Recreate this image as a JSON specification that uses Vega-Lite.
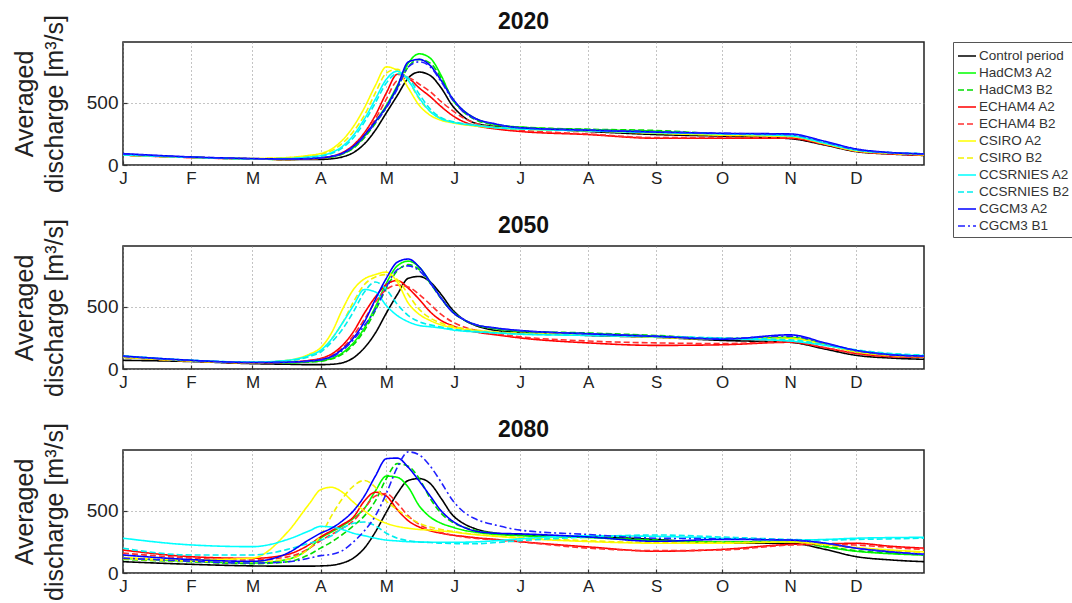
{
  "$schema": "https://vega.github.io/schema/vega-lite/v6.json",
  "padding": {"left": 11, "top": 9, "right": 0, "bottom": 0},
  "bounds": "flush",
  "spacing": 81,
  "config": {
    "font": "Liberation Sans",
    "view": {"stroke": "#222", "strokeWidth": 1.5},
    "title": {"fontSize": 23, "fontWeight": "bold", "color": "#111", "offset": -19, "baseline": "alphabetic", "anchor": "middle"},
    "axis": {"ticks": true, "tickSize": -4, "tickColor": "#333", "tickWidth": 1.2},
    "legend": {
      "strokeColor": "#555",
      "padding": 4,
      "labelFontSize": 13.5,
      "labelColor": "#333",
      "labelFont": "Liberation Sans",
      "symbolType": "stroke",
      "symbolSize": 324,
      "symbolStrokeWidth": 1.5,
      "rowPadding": 0,
      "labelOffset": 2
    }
  },
  "datasets": {
    "flow": [
      {"yr": "2020", "day": 0, "Control period": 80, "HadCM3 A2": 82, "HadCM3 B2": 82, "ECHAM4 A2": 80, "ECHAM4 B2": 80, "CSIRO A2": 80, "CSIRO B2": 80, "CCSRNIES A2": 82, "CCSRNIES B2": 82, "CGCM3 A2": 92, "CGCM3 B1": 88},
      {"yr": "2020", "day": 31, "Control period": 62, "HadCM3 A2": 62, "HadCM3 B2": 62, "ECHAM4 A2": 60, "ECHAM4 B2": 60, "CSIRO A2": 62, "CSIRO B2": 62, "CCSRNIES A2": 62, "CCSRNIES B2": 62, "CGCM3 A2": 65, "CGCM3 B1": 64},
      {"yr": "2020", "day": 59, "Control period": 50, "HadCM3 A2": 48, "HadCM3 B2": 48, "ECHAM4 A2": 48, "ECHAM4 B2": 48, "CSIRO A2": 52, "CSIRO B2": 52, "CCSRNIES A2": 50, "CCSRNIES B2": 50, "CGCM3 A2": 52, "CGCM3 B1": 51},
      {"yr": "2020", "day": 75, "Control period": 45, "HadCM3 A2": 45, "HadCM3 B2": 45, "ECHAM4 A2": 45, "ECHAM4 B2": 45, "CSIRO A2": 60, "CSIRO B2": 58, "CCSRNIES A2": 52, "CCSRNIES B2": 50, "CGCM3 A2": 48, "CGCM3 B1": 47},
      {"yr": "2020", "day": 85, "Control period": 45, "HadCM3 A2": 50, "HadCM3 B2": 50, "ECHAM4 A2": 50, "ECHAM4 B2": 50, "CSIRO A2": 78, "CSIRO B2": 72, "CCSRNIES A2": 65, "CCSRNIES B2": 62, "CGCM3 A2": 52, "CGCM3 B1": 51},
      {"yr": "2020", "day": 90, "Control period": 45, "HadCM3 A2": 55, "HadCM3 B2": 55, "ECHAM4 A2": 55, "ECHAM4 B2": 55, "CSIRO A2": 92, "CSIRO B2": 85, "CCSRNIES A2": 75, "CCSRNIES B2": 70, "CGCM3 A2": 58, "CGCM3 B1": 57},
      {"yr": "2020", "day": 95, "Control period": 50, "HadCM3 A2": 65, "HadCM3 B2": 65, "ECHAM4 A2": 70, "ECHAM4 B2": 68, "CSIRO A2": 128, "CSIRO B2": 115, "CCSRNIES A2": 100, "CCSRNIES B2": 92, "CGCM3 A2": 70, "CGCM3 B1": 68},
      {"yr": "2020", "day": 100, "Control period": 65, "HadCM3 A2": 90, "HadCM3 B2": 88, "ECHAM4 A2": 100, "ECHAM4 B2": 95, "CSIRO A2": 200, "CSIRO B2": 175, "CCSRNIES A2": 150, "CCSRNIES B2": 138, "CGCM3 A2": 95, "CGCM3 B1": 92},
      {"yr": "2020", "day": 105, "Control period": 100, "HadCM3 A2": 140, "HadCM3 B2": 135, "ECHAM4 A2": 160, "ECHAM4 B2": 150, "CSIRO A2": 310, "CSIRO B2": 270, "CCSRNIES A2": 240, "CCSRNIES B2": 220, "CGCM3 A2": 150, "CGCM3 B1": 145},
      {"yr": "2020", "day": 110, "Control period": 170, "HadCM3 A2": 230, "HadCM3 B2": 220, "ECHAM4 A2": 260, "ECHAM4 B2": 240, "CSIRO A2": 460, "CSIRO B2": 400, "CCSRNIES A2": 370, "CCSRNIES B2": 345, "CGCM3 A2": 240, "CGCM3 B1": 232},
      {"yr": "2020", "day": 115, "Control period": 280, "HadCM3 A2": 350, "HadCM3 B2": 335, "ECHAM4 A2": 400, "ECHAM4 B2": 370, "CSIRO A2": 640, "CSIRO B2": 580, "CCSRNIES A2": 530, "CCSRNIES B2": 500, "CGCM3 A2": 350, "CGCM3 B1": 340},
      {"yr": "2020", "day": 120, "Control period": 420, "HadCM3 A2": 480, "HadCM3 B2": 465, "ECHAM4 A2": 580, "ECHAM4 B2": 530, "CSIRO A2": 790, "CSIRO B2": 740, "CCSRNIES A2": 690, "CCSRNIES B2": 660, "CGCM3 A2": 470, "CGCM3 B1": 460},
      {"yr": "2020", "day": 125, "Control period": 560, "HadCM3 A2": 640, "HadCM3 B2": 620, "ECHAM4 A2": 730, "ECHAM4 B2": 680, "CSIRO A2": 760, "CSIRO B2": 770, "CCSRNIES A2": 755, "CCSRNIES B2": 735, "CGCM3 A2": 630, "CGCM3 B1": 610},
      {"yr": "2020", "day": 130, "Control period": 700, "HadCM3 A2": 820, "HadCM3 B2": 790, "ECHAM4 A2": 700, "ECHAM4 B2": 700, "CSIRO A2": 620, "CSIRO B2": 680, "CCSRNIES A2": 680, "CCSRNIES B2": 700, "CGCM3 A2": 830, "CGCM3 B1": 790},
      {"yr": "2020", "day": 135, "Control period": 748, "HadCM3 A2": 895, "HadCM3 B2": 850, "ECHAM4 A2": 620, "ECHAM4 B2": 650, "CSIRO A2": 480, "CSIRO B2": 530, "CCSRNIES A2": 540, "CCSRNIES B2": 570, "CGCM3 A2": 850, "CGCM3 B1": 830},
      {"yr": "2020", "day": 140, "Control period": 720, "HadCM3 A2": 860, "HadCM3 B2": 820, "ECHAM4 A2": 550, "ECHAM4 B2": 590, "CSIRO A2": 400, "CSIRO B2": 430, "CCSRNIES A2": 430, "CCSRNIES B2": 450, "CGCM3 A2": 800, "CGCM3 B1": 790},
      {"yr": "2020", "day": 145, "Control period": 620, "HadCM3 A2": 720, "HadCM3 B2": 700, "ECHAM4 A2": 470, "ECHAM4 B2": 510, "CSIRO A2": 360, "CSIRO B2": 375, "CCSRNIES A2": 370, "CCSRNIES B2": 380, "CGCM3 A2": 680, "CGCM3 B1": 670},
      {"yr": "2020", "day": 150, "Control period": 480, "HadCM3 A2": 530, "HadCM3 B2": 540, "ECHAM4 A2": 400, "ECHAM4 B2": 440, "CSIRO A2": 340, "CSIRO B2": 345, "CCSRNIES A2": 345, "CCSRNIES B2": 350, "CGCM3 A2": 540, "CGCM3 B1": 530},
      {"yr": "2020", "day": 155, "Control period": 390, "HadCM3 A2": 440, "HadCM3 B2": 430, "ECHAM4 A2": 350, "ECHAM4 B2": 380, "CSIRO A2": 325, "CSIRO B2": 328, "CCSRNIES A2": 330, "CCSRNIES B2": 333, "CGCM3 A2": 440, "CGCM3 B1": 430},
      {"yr": "2020", "day": 160, "Control period": 340, "HadCM3 A2": 380, "HadCM3 B2": 370, "ECHAM4 A2": 320, "ECHAM4 B2": 340, "CSIRO A2": 315, "CSIRO B2": 318, "CCSRNIES A2": 320, "CCSRNIES B2": 322, "CGCM3 A2": 380, "CGCM3 B1": 375},
      {"yr": "2020", "day": 170, "Control period": 310, "HadCM3 A2": 325, "HadCM3 B2": 320, "ECHAM4 A2": 290, "ECHAM4 B2": 300, "CSIRO A2": 300, "CSIRO B2": 302, "CCSRNIES A2": 300, "CCSRNIES B2": 302, "CGCM3 A2": 330, "CGCM3 B1": 328},
      {"yr": "2020", "day": 181, "Control period": 300, "HadCM3 A2": 305, "HadCM3 B2": 305, "ECHAM4 A2": 270, "ECHAM4 B2": 280, "CSIRO A2": 290, "CSIRO B2": 292, "CCSRNIES A2": 290, "CCSRNIES B2": 292, "CGCM3 A2": 300, "CGCM3 B1": 300},
      {"yr": "2020", "day": 212, "Control period": 270, "HadCM3 A2": 285, "HadCM3 B2": 288, "ECHAM4 A2": 245, "ECHAM4 B2": 250, "CSIRO A2": 275, "CSIRO B2": 278, "CCSRNIES A2": 275, "CCSRNIES B2": 280, "CGCM3 A2": 280, "CGCM3 B1": 282},
      {"yr": "2020", "day": 243, "Control period": 245, "HadCM3 A2": 272, "HadCM3 B2": 278, "ECHAM4 A2": 215, "ECHAM4 B2": 220, "CSIRO A2": 255, "CSIRO B2": 262, "CCSRNIES A2": 260, "CCSRNIES B2": 265, "CGCM3 A2": 265, "CGCM3 B1": 268},
      {"yr": "2020", "day": 273, "Control period": 232, "HadCM3 A2": 245, "HadCM3 B2": 250, "ECHAM4 A2": 215, "ECHAM4 B2": 222, "CSIRO A2": 240, "CSIRO B2": 242, "CCSRNIES A2": 250, "CCSRNIES B2": 252, "CGCM3 A2": 255, "CGCM3 B1": 255},
      {"yr": "2020", "day": 304, "Control period": 212, "HadCM3 A2": 235, "HadCM3 B2": 238, "ECHAM4 A2": 215, "ECHAM4 B2": 220, "CSIRO A2": 230, "CSIRO B2": 232, "CCSRNIES A2": 235, "CCSRNIES B2": 238, "CGCM3 A2": 250, "CGCM3 B1": 245},
      {"yr": "2020", "day": 320, "Control period": 160, "HadCM3 A2": 170, "HadCM3 B2": 172, "ECHAM4 A2": 165, "ECHAM4 B2": 165, "CSIRO A2": 170, "CSIRO B2": 172, "CCSRNIES A2": 175, "CCSRNIES B2": 178, "CGCM3 A2": 190, "CGCM3 B1": 185},
      {"yr": "2020", "day": 334, "Control period": 108, "HadCM3 A2": 115, "HadCM3 B2": 118, "ECHAM4 A2": 112, "ECHAM4 B2": 112, "CSIRO A2": 115, "CSIRO B2": 116, "CCSRNIES A2": 120, "CCSRNIES B2": 122, "CGCM3 A2": 130, "CGCM3 B1": 125},
      {"yr": "2020", "day": 350, "Control period": 88, "HadCM3 A2": 95, "HadCM3 B2": 96, "ECHAM4 A2": 90, "ECHAM4 B2": 90, "CSIRO A2": 95, "CSIRO B2": 95, "CCSRNIES A2": 98, "CCSRNIES B2": 100, "CGCM3 A2": 100, "CGCM3 B1": 98},
      {"yr": "2020", "day": 365, "Control period": 77, "HadCM3 A2": 84, "HadCM3 B2": 85, "ECHAM4 A2": 80, "ECHAM4 B2": 80, "CSIRO A2": 82, "CSIRO B2": 84, "CCSRNIES A2": 90, "CCSRNIES B2": 92, "CGCM3 A2": 90, "CGCM3 B1": 88},

      {"yr": "2050", "day": 0, "Control period": 70, "HadCM3 A2": 95, "HadCM3 B2": 95, "ECHAM4 A2": 95, "ECHAM4 B2": 95, "CSIRO A2": 95, "CSIRO B2": 95, "CCSRNIES A2": 105, "CCSRNIES B2": 105, "CGCM3 A2": 104, "CGCM3 B1": 100},
      {"yr": "2050", "day": 31, "Control period": 60, "HadCM3 A2": 68, "HadCM3 B2": 68, "ECHAM4 A2": 65, "ECHAM4 B2": 65, "CSIRO A2": 65, "CSIRO B2": 65, "CCSRNIES A2": 70, "CCSRNIES B2": 70, "CGCM3 A2": 70, "CGCM3 B1": 68},
      {"yr": "2050", "day": 59, "Control period": 43, "HadCM3 A2": 50, "HadCM3 B2": 50, "ECHAM4 A2": 50, "ECHAM4 B2": 50, "CSIRO A2": 52, "CSIRO B2": 52, "CCSRNIES A2": 55, "CCSRNIES B2": 55, "CGCM3 A2": 52, "CGCM3 B1": 52},
      {"yr": "2050", "day": 75, "Control period": 38, "HadCM3 A2": 50, "HadCM3 B2": 50, "ECHAM4 A2": 55, "ECHAM4 B2": 53, "CSIRO A2": 70, "CSIRO B2": 65, "CCSRNIES A2": 70, "CCSRNIES B2": 66, "CGCM3 A2": 55, "CGCM3 B1": 54},
      {"yr": "2050", "day": 85, "Control period": 35, "HadCM3 A2": 58, "HadCM3 B2": 57, "ECHAM4 A2": 70, "ECHAM4 B2": 66, "CSIRO A2": 120, "CSIRO B2": 105, "CCSRNIES A2": 110, "CCSRNIES B2": 100, "CGCM3 A2": 65, "CGCM3 B1": 63},
      {"yr": "2050", "day": 90, "Control period": 35, "HadCM3 A2": 65, "HadCM3 B2": 63, "ECHAM4 A2": 85, "ECHAM4 B2": 80, "CSIRO A2": 170, "CSIRO B2": 145, "CCSRNIES A2": 150, "CCSRNIES B2": 135, "CGCM3 A2": 75, "CGCM3 B1": 72},
      {"yr": "2050", "day": 95, "Control period": 38, "HadCM3 A2": 85, "HadCM3 B2": 80, "ECHAM4 A2": 120, "ECHAM4 B2": 110, "CSIRO A2": 290, "CSIRO B2": 240, "CCSRNIES A2": 240, "CCSRNIES B2": 215, "CGCM3 A2": 100, "CGCM3 B1": 95},
      {"yr": "2050", "day": 100, "Control period": 50, "HadCM3 A2": 130, "HadCM3 B2": 120, "ECHAM4 A2": 190, "ECHAM4 B2": 170, "CSIRO A2": 480, "CSIRO B2": 370, "CCSRNIES A2": 370, "CCSRNIES B2": 320, "CGCM3 A2": 160, "CGCM3 B1": 150},
      {"yr": "2050", "day": 105, "Control period": 90, "HadCM3 A2": 210, "HadCM3 B2": 195, "ECHAM4 A2": 300, "ECHAM4 B2": 270, "CSIRO A2": 640, "CSIRO B2": 540, "CCSRNIES A2": 510, "CCSRNIES B2": 460, "CGCM3 A2": 250, "CGCM3 B1": 235},
      {"yr": "2050", "day": 110, "Control period": 170, "HadCM3 A2": 330, "HadCM3 B2": 310, "ECHAM4 A2": 450, "ECHAM4 B2": 400, "CSIRO A2": 725, "CSIRO B2": 680, "CCSRNIES A2": 640, "CCSRNIES B2": 620, "CGCM3 A2": 380, "CGCM3 B1": 350},
      {"yr": "2050", "day": 115, "Control period": 290, "HadCM3 A2": 500, "HadCM3 B2": 470, "ECHAM4 A2": 580, "ECHAM4 B2": 540, "CSIRO A2": 760, "CSIRO B2": 740, "CCSRNIES A2": 620, "CCSRNIES B2": 700, "CGCM3 A2": 560, "CGCM3 B1": 480},
      {"yr": "2050", "day": 120, "Control period": 450, "HadCM3 A2": 690, "HadCM3 B2": 650, "ECHAM4 A2": 680, "ECHAM4 B2": 640, "CSIRO A2": 780, "CSIRO B2": 760, "CCSRNIES A2": 510, "CCSRNIES B2": 640, "CGCM3 A2": 730, "CGCM3 B1": 660},
      {"yr": "2050", "day": 125, "Control period": 600, "HadCM3 A2": 830, "HadCM3 B2": 790, "ECHAM4 A2": 712, "ECHAM4 B2": 675, "CSIRO A2": 700, "CSIRO B2": 720, "CCSRNIES A2": 430, "CCSRNIES B2": 520, "CGCM3 A2": 860, "CGCM3 B1": 800},
      {"yr": "2050", "day": 130, "Control period": 730, "HadCM3 A2": 868, "HadCM3 B2": 840, "ECHAM4 A2": 650, "ECHAM4 B2": 660, "CSIRO A2": 530, "CSIRO B2": 600, "CCSRNIES A2": 380, "CCSRNIES B2": 430, "CGCM3 A2": 885, "CGCM3 B1": 830},
      {"yr": "2050", "day": 135, "Control period": 745, "HadCM3 A2": 820, "HadCM3 B2": 800, "ECHAM4 A2": 560, "ECHAM4 B2": 600, "CSIRO A2": 440, "CSIRO B2": 480, "CCSRNIES A2": 350, "CCSRNIES B2": 380, "CGCM3 A2": 820, "CGCM3 B1": 790},
      {"yr": "2050", "day": 140, "Control period": 700, "HadCM3 A2": 700, "HadCM3 B2": 690, "ECHAM4 A2": 460, "ECHAM4 B2": 520, "CSIRO A2": 390, "CSIRO B2": 410, "CCSRNIES A2": 340, "CCSRNIES B2": 355, "CGCM3 A2": 700, "CGCM3 B1": 690},
      {"yr": "2050", "day": 145, "Control period": 600, "HadCM3 A2": 570, "HadCM3 B2": 565, "ECHAM4 A2": 390, "ECHAM4 B2": 440, "CSIRO A2": 355, "CSIRO B2": 370, "CCSRNIES A2": 330, "CCSRNIES B2": 338, "CGCM3 A2": 570, "CGCM3 B1": 570},
      {"yr": "2050", "day": 150, "Control period": 480, "HadCM3 A2": 465, "HadCM3 B2": 462, "ECHAM4 A2": 350, "ECHAM4 B2": 380, "CSIRO A2": 335, "CSIRO B2": 345, "CCSRNIES A2": 315, "CCSRNIES B2": 322, "CGCM3 A2": 460, "CGCM3 B1": 465},
      {"yr": "2050", "day": 155, "Control period": 400, "HadCM3 A2": 400, "HadCM3 B2": 398, "ECHAM4 A2": 320, "ECHAM4 B2": 340, "CSIRO A2": 320, "CSIRO B2": 328, "CCSRNIES A2": 305, "CCSRNIES B2": 310, "CGCM3 A2": 400, "CGCM3 B1": 402},
      {"yr": "2050", "day": 160, "Control period": 355, "HadCM3 A2": 360, "HadCM3 B2": 358, "ECHAM4 A2": 300, "ECHAM4 B2": 315, "CSIRO A2": 310, "CSIRO B2": 315, "CCSRNIES A2": 300, "CCSRNIES B2": 303, "CGCM3 A2": 360, "CGCM3 B1": 362},
      {"yr": "2050", "day": 170, "Control period": 310, "HadCM3 A2": 325, "HadCM3 B2": 322, "ECHAM4 A2": 275, "ECHAM4 B2": 285, "CSIRO A2": 295, "CSIRO B2": 298, "CCSRNIES A2": 290, "CCSRNIES B2": 292, "CGCM3 A2": 330, "CGCM3 B1": 328},
      {"yr": "2050", "day": 181, "Control period": 295, "HadCM3 A2": 305, "HadCM3 B2": 305, "ECHAM4 A2": 250, "ECHAM4 B2": 260, "CSIRO A2": 285, "CSIRO B2": 288, "CCSRNIES A2": 280, "CCSRNIES B2": 282, "CGCM3 A2": 310, "CGCM3 B1": 308},
      {"yr": "2050", "day": 212, "Control period": 270, "HadCM3 A2": 285, "HadCM3 B2": 290, "ECHAM4 A2": 210, "ECHAM4 B2": 225, "CSIRO A2": 275, "CSIRO B2": 278, "CCSRNIES A2": 270, "CCSRNIES B2": 272, "CGCM3 A2": 283, "CGCM3 B1": 285},
      {"yr": "2050", "day": 243, "Control period": 255, "HadCM3 A2": 265, "HadCM3 B2": 270, "ECHAM4 A2": 190, "ECHAM4 B2": 210, "CSIRO A2": 255, "CSIRO B2": 260, "CCSRNIES A2": 260, "CCSRNIES B2": 262, "CGCM3 A2": 262, "CGCM3 B1": 265},
      {"yr": "2050", "day": 273, "Control period": 230, "HadCM3 A2": 240, "HadCM3 B2": 245, "ECHAM4 A2": 195, "ECHAM4 B2": 205, "CSIRO A2": 240, "CSIRO B2": 245, "CCSRNIES A2": 245, "CCSRNIES B2": 250, "CGCM3 A2": 240, "CGCM3 B1": 245},
      {"yr": "2050", "day": 304, "Control period": 215, "HadCM3 A2": 255, "HadCM3 B2": 250, "ECHAM4 A2": 215, "ECHAM4 B2": 220, "CSIRO A2": 245, "CSIRO B2": 248, "CCSRNIES A2": 225, "CCSRNIES B2": 235, "CGCM3 A2": 275, "CGCM3 B1": 265},
      {"yr": "2050", "day": 320, "Control period": 160, "HadCM3 A2": 200, "HadCM3 B2": 198, "ECHAM4 A2": 170, "ECHAM4 B2": 172, "CSIRO A2": 195, "CSIRO B2": 198, "CCSRNIES A2": 190, "CCSRNIES B2": 195, "CGCM3 A2": 210, "CGCM3 B1": 205},
      {"yr": "2050", "day": 334, "Control period": 110, "HadCM3 A2": 140, "HadCM3 B2": 140, "ECHAM4 A2": 125, "ECHAM4 B2": 125, "CSIRO A2": 140, "CSIRO B2": 142, "CCSRNIES A2": 150, "CCSRNIES B2": 155, "CGCM3 A2": 150, "CGCM3 B1": 148},
      {"yr": "2050", "day": 350, "Control period": 88, "HadCM3 A2": 110, "HadCM3 B2": 110, "ECHAM4 A2": 100, "ECHAM4 B2": 100, "CSIRO A2": 110, "CSIRO B2": 112, "CCSRNIES A2": 120, "CCSRNIES B2": 125, "CGCM3 A2": 115, "CGCM3 B1": 114},
      {"yr": "2050", "day": 365, "Control period": 78, "HadCM3 A2": 98, "HadCM3 B2": 98, "ECHAM4 A2": 95, "ECHAM4 B2": 95, "CSIRO A2": 100, "CSIRO B2": 102, "CCSRNIES A2": 108, "CCSRNIES B2": 112, "CGCM3 A2": 104, "CGCM3 B1": 102},

      {"yr": "2080", "day": 0, "Control period": 91, "HadCM3 A2": 118, "HadCM3 B2": 110, "ECHAM4 A2": 185, "ECHAM4 B2": 160, "CSIRO A2": 125, "CSIRO B2": 115, "CCSRNIES A2": 280, "CCSRNIES B2": 199, "CGCM3 A2": 145, "CGCM3 B1": 120},
      {"yr": "2080", "day": 31, "Control period": 70, "HadCM3 A2": 94, "HadCM3 B2": 90, "ECHAM4 A2": 131, "ECHAM4 B2": 120, "CSIRO A2": 105, "CSIRO B2": 95, "CCSRNIES A2": 226, "CCSRNIES B2": 145, "CGCM3 A2": 108, "CGCM3 B1": 95},
      {"yr": "2080", "day": 59, "Control period": 57, "HadCM3 A2": 80, "HadCM3 B2": 75, "ECHAM4 A2": 118, "ECHAM4 B2": 105, "CSIRO A2": 120, "CSIRO B2": 90, "CCSRNIES A2": 212, "CCSRNIES B2": 145, "CGCM3 A2": 94, "CGCM3 B1": 80},
      {"yr": "2080", "day": 75, "Control period": 55, "HadCM3 A2": 110, "HadCM3 B2": 90, "ECHAM4 A2": 150, "ECHAM4 B2": 130, "CSIRO A2": 330, "CSIRO B2": 110, "CCSRNIES A2": 270, "CCSRNIES B2": 190, "CGCM3 A2": 160, "CGCM3 B1": 90},
      {"yr": "2080", "day": 85, "Control period": 55, "HadCM3 A2": 200, "HadCM3 B2": 150, "ECHAM4 A2": 230, "ECHAM4 B2": 200, "CSIRO A2": 560, "CSIRO B2": 200, "CCSRNIES A2": 340, "CCSRNIES B2": 240, "CGCM3 A2": 270, "CGCM3 B1": 120},
      {"yr": "2080", "day": 90, "Control period": 57, "HadCM3 A2": 280, "HadCM3 B2": 200, "ECHAM4 A2": 290, "ECHAM4 B2": 260, "CSIRO A2": 670, "CSIRO B2": 300, "CCSRNIES A2": 375, "CCSRNIES B2": 265, "CGCM3 A2": 320, "CGCM3 B1": 140},
      {"yr": "2080", "day": 95, "Control period": 62, "HadCM3 A2": 330, "HadCM3 B2": 250, "ECHAM4 A2": 340, "ECHAM4 B2": 310, "CSIRO A2": 690, "CSIRO B2": 460, "CCSRNIES A2": 370, "CCSRNIES B2": 300, "CGCM3 A2": 360, "CGCM3 B1": 150},
      {"yr": "2080", "day": 100, "Control period": 80, "HadCM3 A2": 380, "HadCM3 B2": 310, "ECHAM4 A2": 390, "ECHAM4 B2": 360, "CSIRO A2": 650, "CSIRO B2": 600, "CCSRNIES A2": 350, "CCSRNIES B2": 360, "CGCM3 A2": 420, "CGCM3 B1": 180},
      {"yr": "2080", "day": 105, "Control period": 120, "HadCM3 A2": 440, "HadCM3 B2": 380, "ECHAM4 A2": 450, "ECHAM4 B2": 420, "CSIRO A2": 570, "CSIRO B2": 700, "CCSRNIES A2": 320, "CCSRNIES B2": 400, "CGCM3 A2": 500, "CGCM3 B1": 250},
      {"yr": "2080", "day": 110, "Control period": 200, "HadCM3 A2": 520, "HadCM3 B2": 460, "ECHAM4 A2": 580, "ECHAM4 B2": 520, "CSIRO A2": 500, "CSIRO B2": 745, "CCSRNIES A2": 300, "CCSRNIES B2": 410, "CGCM3 A2": 620, "CGCM3 B1": 340},
      {"yr": "2080", "day": 115, "Control period": 330, "HadCM3 A2": 660, "HadCM3 B2": 580, "ECHAM4 A2": 650, "ECHAM4 B2": 620, "CSIRO A2": 440, "CSIRO B2": 690, "CCSRNIES A2": 280, "CCSRNIES B2": 380, "CGCM3 A2": 780, "CGCM3 B1": 460},
      {"yr": "2080", "day": 120, "Control period": 490, "HadCM3 A2": 780, "HadCM3 B2": 760, "ECHAM4 A2": 620, "ECHAM4 B2": 640, "CSIRO A2": 400, "CSIRO B2": 580, "CCSRNIES A2": 265, "CCSRNIES B2": 320, "CGCM3 A2": 920, "CGCM3 B1": 640},
      {"yr": "2080", "day": 125, "Control period": 640, "HadCM3 A2": 770, "HadCM3 B2": 880, "ECHAM4 A2": 510, "ECHAM4 B2": 560, "CSIRO A2": 375, "CSIRO B2": 510, "CCSRNIES A2": 258, "CCSRNIES B2": 280, "CGCM3 A2": 925, "CGCM3 B1": 850},
      {"yr": "2080", "day": 130, "Control period": 745, "HadCM3 A2": 690, "HadCM3 B2": 860, "ECHAM4 A2": 420, "ECHAM4 B2": 460, "CSIRO A2": 360, "CSIRO B2": 450, "CCSRNIES A2": 252, "CCSRNIES B2": 260, "CGCM3 A2": 850, "CGCM3 B1": 975},
      {"yr": "2080", "day": 135, "Control period": 760, "HadCM3 A2": 540, "HadCM3 B2": 760, "ECHAM4 A2": 370, "ECHAM4 B2": 390, "CSIRO A2": 350, "CSIRO B2": 400, "CCSRNIES A2": 250, "CCSRNIES B2": 250, "CGCM3 A2": 740, "CGCM3 B1": 950},
      {"yr": "2080", "day": 140, "Control period": 720, "HadCM3 A2": 450, "HadCM3 B2": 600, "ECHAM4 A2": 340, "ECHAM4 B2": 350, "CSIRO A2": 345, "CSIRO B2": 370, "CCSRNIES A2": 248, "CCSRNIES B2": 245, "CGCM3 A2": 620, "CGCM3 B1": 860},
      {"yr": "2080", "day": 145, "Control period": 600, "HadCM3 A2": 400, "HadCM3 B2": 480, "ECHAM4 A2": 320, "ECHAM4 B2": 325, "CSIRO A2": 338, "CSIRO B2": 350, "CCSRNIES A2": 248, "CCSRNIES B2": 240, "CGCM3 A2": 500, "CGCM3 B1": 730},
      {"yr": "2080", "day": 150, "Control period": 470, "HadCM3 A2": 370, "HadCM3 B2": 410, "ECHAM4 A2": 305, "ECHAM4 B2": 305, "CSIRO A2": 331, "CSIRO B2": 335, "CCSRNIES A2": 248, "CCSRNIES B2": 238, "CGCM3 A2": 420, "CGCM3 B1": 590},
      {"yr": "2080", "day": 155, "Control period": 400, "HadCM3 A2": 345, "HadCM3 B2": 370, "ECHAM4 A2": 295, "ECHAM4 B2": 290, "CSIRO A2": 320, "CSIRO B2": 322, "CCSRNIES A2": 248, "CCSRNIES B2": 235, "CGCM3 A2": 370, "CGCM3 B1": 495},
      {"yr": "2080", "day": 160, "Control period": 360, "HadCM3 A2": 330, "HadCM3 B2": 345, "ECHAM4 A2": 285, "ECHAM4 B2": 280, "CSIRO A2": 310, "CSIRO B2": 312, "CCSRNIES A2": 250, "CCSRNIES B2": 235, "CGCM3 A2": 340, "CGCM3 B1": 440},
      {"yr": "2080", "day": 170, "Control period": 320, "HadCM3 A2": 310, "HadCM3 B2": 320, "ECHAM4 A2": 270, "ECHAM4 B2": 265, "CSIRO A2": 295, "CSIRO B2": 298, "CCSRNIES A2": 260, "CCSRNIES B2": 245, "CGCM3 A2": 320, "CGCM3 B1": 385},
      {"yr": "2080", "day": 181, "Control period": 306, "HadCM3 A2": 300, "HadCM3 B2": 305, "ECHAM4 A2": 252, "ECHAM4 B2": 250, "CSIRO A2": 280, "CSIRO B2": 285, "CCSRNIES A2": 275, "CCSRNIES B2": 260, "CGCM3 A2": 315, "CGCM3 B1": 345},
      {"yr": "2080", "day": 212, "Control period": 293, "HadCM3 A2": 285, "HadCM3 B2": 290, "ECHAM4 A2": 210, "ECHAM4 B2": 200, "CSIRO A2": 253, "CSIRO B2": 260, "CCSRNIES A2": 300, "CCSRNIES B2": 290, "CGCM3 A2": 290, "CGCM3 B1": 310},
      {"yr": "2080", "day": 243, "Control period": 270, "HadCM3 A2": 260, "HadCM3 B2": 265, "ECHAM4 A2": 175, "ECHAM4 B2": 180, "CSIRO A2": 240, "CSIRO B2": 245, "CCSRNIES A2": 295, "CCSRNIES B2": 306, "CGCM3 A2": 255, "CGCM3 B1": 280},
      {"yr": "2080", "day": 273, "Control period": 240, "HadCM3 A2": 250, "HadCM3 B2": 250, "ECHAM4 A2": 190, "ECHAM4 B2": 185, "CSIRO A2": 240, "CSIRO B2": 245, "CCSRNIES A2": 280, "CCSRNIES B2": 290, "CGCM3 A2": 270, "CGCM3 B1": 275},
      {"yr": "2080", "day": 304, "Control period": 240, "HadCM3 A2": 255, "HadCM3 B2": 255, "ECHAM4 A2": 230, "ECHAM4 B2": 225, "CSIRO A2": 250, "CSIRO B2": 250, "CCSRNIES A2": 265, "CCSRNIES B2": 270, "CGCM3 A2": 265, "CGCM3 B1": 265},
      {"yr": "2080", "day": 320, "Control period": 190, "HadCM3 A2": 210, "HadCM3 B2": 215, "ECHAM4 A2": 235, "ECHAM4 B2": 230, "CSIRO A2": 230, "CSIRO B2": 225, "CCSRNIES A2": 270, "CCSRNIES B2": 265, "CGCM3 A2": 240, "CGCM3 B1": 240},
      {"yr": "2080", "day": 334, "Control period": 132, "HadCM3 A2": 175, "HadCM3 B2": 180, "ECHAM4 A2": 239, "ECHAM4 B2": 225, "CSIRO A2": 205, "CSIRO B2": 200, "CCSRNIES A2": 280, "CCSRNIES B2": 270, "CGCM3 A2": 200, "CGCM3 B1": 200},
      {"yr": "2080", "day": 350, "Control period": 105, "HadCM3 A2": 155, "HadCM3 B2": 160, "ECHAM4 A2": 215, "ECHAM4 B2": 205, "CSIRO A2": 185, "CSIRO B2": 180, "CCSRNIES A2": 285, "CCSRNIES B2": 275, "CGCM3 A2": 170, "CGCM3 B1": 170},
      {"yr": "2080", "day": 365, "Control period": 91, "HadCM3 A2": 145, "HadCM3 B2": 145, "ECHAM4 A2": 200, "ECHAM4 B2": 190, "CSIRO A2": 170, "CSIRO B2": 165, "CCSRNIES A2": 287, "CCSRNIES B2": 280, "CGCM3 A2": 150, "CGCM3 B1": 150}
    ]
  },
  "vconcat": [
    {
      "title": {"text": "2020"},
      "width": 801,
      "height": 123,
      "data": {"name": "flow"},
      "transform": [
        {"filter": "datum.yr === '2020'"},
        {"fold": ["Control period", "HadCM3 A2", "HadCM3 B2", "ECHAM4 A2", "ECHAM4 B2", "CSIRO A2", "CSIRO B2", "CCSRNIES A2", "CCSRNIES B2", "CGCM3 A2", "CGCM3 B1"], "as": ["series", "q"]}
      ],
      "mark": {"type": "line", "interpolate": "monotone", "strokeWidth": 1.6},
      "encoding": {
        "x": {"field": "day", "type": "quantitative", "scale": {"domain": [0, 365], "nice": false},
          "axis": {"title": null, "values": [0, 31, 59, 90, 120, 151, 181, 212, 243, 273, 304, 334],
            "labelExpr": "['J','F','M','A','M','J','J','A','S','O','N','D'][indexof([0,31,59,90,120,151,181,212,243,273,304,334], datum.value)]",
            "grid": true, "gridDash": [1, 3], "gridColor": "#888", "domain": false,
            "labelFontSize": 17, "labelColor": "#222", "labelPadding": 9, "labelFlush": false}},
        "y": {"field": "q", "type": "quantitative", "scale": {"domain": [0, 990], "nice": false},
          "axis": {"title": ["Averaged", "discharge [m³/s]"], "titleFontSize": 25, "titleFontWeight": "normal", "titleColor": "#222", "titleLineHeight": 30, "titlePadding": 19,
            "values": [0, 500], "grid": true, "gridDash": [1, 3], "gridColor": "#888", "domain": false,
            "labelFontSize": 19, "labelColor": "#222", "labelPadding": 9, "labelFlush": false}},
        "color": {"field": "series", "type": "nominal",
          "scale": {"domain": ["Control period", "HadCM3 A2", "HadCM3 B2", "ECHAM4 A2", "ECHAM4 B2", "CSIRO A2", "CSIRO B2", "CCSRNIES A2", "CCSRNIES B2", "CGCM3 A2", "CGCM3 B1"],
            "range": ["#000000", "#00ff00", "#00dd00", "#ff0000", "#ff3030", "#ffff00", "#f2f200", "#00ffff", "#00eeee", "#0000ff", "#2020ff"]},
          "legend": {"title": null, "orient": "none", "legendX": 830, "legendY": 0}},
        "strokeDash": {"field": "series", "type": "nominal",
          "scale": {"domain": ["Control period", "HadCM3 A2", "HadCM3 B2", "ECHAM4 A2", "ECHAM4 B2", "CSIRO A2", "CSIRO B2", "CCSRNIES A2", "CCSRNIES B2", "CGCM3 A2", "CGCM3 B1"],
            "range": [[1, 0], [1, 0], [6, 3], [1, 0], [6, 3], [1, 0], [6, 3], [1, 0], [6, 3], [1, 0], [7, 3, 2, 3]]},
          "legend": {"title": null, "orient": "none", "legendX": 830, "legendY": 0}}
      }
    },
    {
      "title": {"text": "2050"},
      "width": 801,
      "height": 123,
      "data": {"name": "flow"},
      "transform": [
        {"filter": "datum.yr === '2050'"},
        {"fold": ["Control period", "HadCM3 A2", "HadCM3 B2", "ECHAM4 A2", "ECHAM4 B2", "CSIRO A2", "CSIRO B2", "CCSRNIES A2", "CCSRNIES B2", "CGCM3 A2", "CGCM3 B1"], "as": ["series", "q"]}
      ],
      "mark": {"type": "line", "interpolate": "monotone", "strokeWidth": 1.6},
      "encoding": {
        "x": {"field": "day", "type": "quantitative", "scale": {"domain": [0, 365], "nice": false},
          "axis": {"title": null, "values": [0, 31, 59, 90, 120, 151, 181, 212, 243, 273, 304, 334],
            "labelExpr": "['J','F','M','A','M','J','J','A','S','O','N','D'][indexof([0,31,59,90,120,151,181,212,243,273,304,334], datum.value)]",
            "grid": true, "gridDash": [1, 3], "gridColor": "#888", "domain": false,
            "labelFontSize": 17, "labelColor": "#222", "labelPadding": 9, "labelFlush": false}},
        "y": {"field": "q", "type": "quantitative", "scale": {"domain": [0, 990], "nice": false},
          "axis": {"title": ["Averaged", "discharge [m³/s]"], "titleFontSize": 25, "titleFontWeight": "normal", "titleColor": "#222", "titleLineHeight": 30, "titlePadding": 19,
            "values": [0, 500], "grid": true, "gridDash": [1, 3], "gridColor": "#888", "domain": false,
            "labelFontSize": 19, "labelColor": "#222", "labelPadding": 9, "labelFlush": false}},
        "color": {"field": "series", "type": "nominal"},
        "strokeDash": {"field": "series", "type": "nominal"}
      }
    },
    {
      "title": {"text": "2080"},
      "width": 801,
      "height": 123,
      "data": {"name": "flow"},
      "transform": [
        {"filter": "datum.yr === '2080'"},
        {"fold": ["Control period", "HadCM3 A2", "HadCM3 B2", "ECHAM4 A2", "ECHAM4 B2", "CSIRO A2", "CSIRO B2", "CCSRNIES A2", "CCSRNIES B2", "CGCM3 A2", "CGCM3 B1"], "as": ["series", "q"]}
      ],
      "mark": {"type": "line", "interpolate": "monotone", "strokeWidth": 1.6},
      "encoding": {
        "x": {"field": "day", "type": "quantitative", "scale": {"domain": [0, 365], "nice": false},
          "axis": {"title": null, "values": [0, 31, 59, 90, 120, 151, 181, 212, 243, 273, 304, 334],
            "labelExpr": "['J','F','M','A','M','J','J','A','S','O','N','D'][indexof([0,31,59,90,120,151,181,212,243,273,304,334], datum.value)]",
            "grid": true, "gridDash": [1, 3], "gridColor": "#888", "domain": false,
            "labelFontSize": 17, "labelColor": "#222", "labelPadding": 9, "labelFlush": false}},
        "y": {"field": "q", "type": "quantitative", "scale": {"domain": [0, 990], "nice": false},
          "axis": {"title": ["Averaged", "discharge [m³/s]"], "titleFontSize": 25, "titleFontWeight": "normal", "titleColor": "#222", "titleLineHeight": 30, "titlePadding": 19,
            "values": [0, 500], "grid": true, "gridDash": [1, 3], "gridColor": "#888", "domain": false,
            "labelFontSize": 19, "labelColor": "#222", "labelPadding": 9, "labelFlush": false}},
        "color": {"field": "series", "type": "nominal"},
        "strokeDash": {"field": "series", "type": "nominal"}
      }
    }
  ]
}
